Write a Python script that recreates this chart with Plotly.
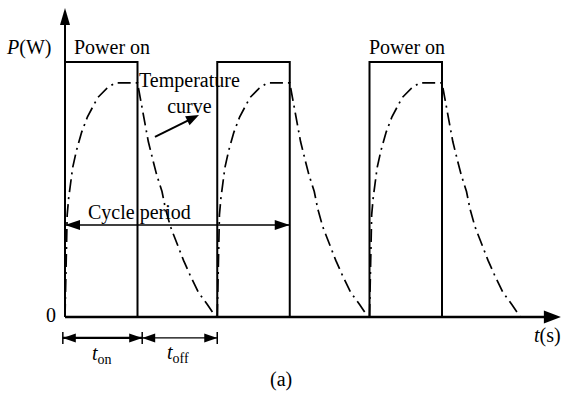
import math
import plotly.graph_objects as go

# ---- pulse timing (s) and power level (normalised) ----
pulse_starts = [0.0, 2.1, 4.2]
t_on = 1.0
p_on = 1.0

# ---- temperature response as a fraction of full scale ----
# rise: time since power on ; fall: time since power off
rise_t = [0, 0.008, 0.018, 0.03, 0.05, 0.075, 0.105, 0.16, 0.23, 0.31, 0.45, 0.58, 0.69, 1.0]
rise_T = [0, 0.15, 0.30, 0.40, 0.465, 0.525, 0.585, 0.655, 0.725, 0.785, 0.86, 0.897, 0.918, 0.918]
fall_t = [0, 0.034, 0.066, 0.149, 0.218, 0.265, 0.338, 0.386, 0.455, 0.540, 0.635, 0.724, 0.84, 0.968, 1.08]
fall_T = [0.918, 0.863, 0.825, 0.688, 0.609, 0.557, 0.492, 0.424, 0.354, 0.289, 0.222, 0.165, 0.097, 0.047, 0]

# ---- dimension lines ----
dim_marks = [-0.03, 1.065, 2.10]      # |<- t_on ->|<- t_off ->|
dim_level = -0.082
cycle_span = [0.0, 3.1]
cycle_level = 0.361
t_max = 6.84
p_max = 1.212

W, H = 562, 393
X_RANGE = [-0.8966, 6.8552]
Y_RANGE = [-0.298, 1.2431]
SX = W / (X_RANGE[1] - X_RANGE[0])
SY = H / (Y_RANGE[1] - Y_RANGE[0])

FONT = "'Times New Roman', 'Liberation Serif', Times, serif"
INK = "black"

fig = go.Figure()

# power signal (square pulses)
px, py = [], []
for s in pulse_starts:
    px += [s, s, s + t_on, s + t_on]
    py += [0, p_on, p_on, 0]
fig.add_trace(go.Scatter(x=px, y=py, mode="lines",
                         line=dict(color=INK, width=2), hoverinfo="skip"))

# temperature curve (dash-dot)
tx, ty = [], []
for s in pulse_starts:
    tx += [s + t for t in rise_t] + [s + t_on + t for t in fall_t] + [None]
    ty += rise_T + fall_T + [None]
fig.add_trace(go.Scatter(x=tx, y=ty, mode="lines",
                         line=dict(color=INK, width=1.7, dash="13px,5px,2px,5px"),
                         hoverinfo="skip"))

shapes = []


def seg(x0, y0, x1, y1, w):
    shapes.append(dict(type="line", xref="x", yref="y", x0=x0, y0=y0, x1=x1, y1=y1,
                       line=dict(color=INK, width=w)))


def head(tx_, ty_, fx, fy, length, half):
    """Filled arrowhead with its tip at (tx_, ty_), pointing away from (fx, fy)."""
    dx = (tx_ - fx) * SX
    dy = (ty_ - fy) * SY
    n = math.hypot(dx, dy)
    ux, uy = dx / n, dy / n
    nx, ny = -uy, ux
    bx, by = -length * ux, -length * uy
    p1 = (bx + half * nx, by + half * ny)
    p2 = (bx - half * nx, by - half * ny)
    path = "M0,0 L{:.2f},{:.2f} L{:.2f},{:.2f} Z".format(p1[0], p1[1], p2[0], p2[1])
    shapes.append(dict(type="path", xref="x", yref="y", xsizemode="pixel", ysizemode="pixel",
                       xanchor=tx_, yanchor=ty_, path=path, fillcolor=INK,
                       line=dict(color=INK, width=0)))


# axes
seg(0, 0, t_max - 10 / SX, 0, 2.6)
head(t_max, 0, 0, 0, 17, 6.5)
seg(0, 0, 0, p_max - 10 / SY, 2)
head(0, p_max, 0, 0, 17, 5)

# cycle period
seg(cycle_span[0], cycle_level, cycle_span[1], cycle_level, 1.6)
head(cycle_span[0], cycle_level, cycle_span[1], cycle_level, 15, 5)
head(cycle_span[1], cycle_level, cycle_span[0], cycle_level, 15, 5)

# t_on / t_off dimensions
tick = 6 / SY
for m in dim_marks:
    seg(m, dim_level - tick, m, dim_level + tick, 1.5)
seg(dim_marks[0], dim_level, dim_marks[1], dim_level, 2.4)
seg(dim_marks[1], dim_level, dim_marks[2], dim_level, 1.4)
for a, b in [(dim_marks[0], dim_marks[1]), (dim_marks[1], dim_marks[2])]:
    head(a, dim_level, b, dim_level, 13, 4.5)
    head(b, dim_level, a, dim_level, 13, 4.5)

# pointer to the temperature curve
ptr_tail = (1.241, 0.706)
ptr_tip = (1.848, 0.792)
seg(ptr_tail[0], ptr_tail[1], ptr_tip[0] - 8 * 0.894 / SX, ptr_tip[1] - 8 * 0.447 / SY, 2)
head(ptr_tip[0], ptr_tip[1], ptr_tail[0], ptr_tail[1], 13, 5)


def label(x, y, text, xanchor="center", size=20):
    return dict(x=x, y=y, xref="x", yref="y", text=text, showarrow=False,
                xanchor=xanchor, yanchor="middle",
                font=dict(family=FONT, size=size, color=INK))


annotations = [
    label(-0.166, 1.058, "<i>P</i>(W)", xanchor="right"),
    label(0.097, 1.058, "Power on", xanchor="left"),
    label(4.717, 1.058, "Power on"),
    label(1.724, 0.877, "Temperature<br>curve"),
    label(1.021, 0.408, "Cycle period"),
    label(-0.097, 0.006, "0", xanchor="right"),
    label(6.66, -0.072, "<i>t</i>(s)"),
    label(0.51, -0.147, "<i>t</i><sub>on</sub>"),
    label(1.559, -0.142, "<i>t</i><sub>off</sub>"),
    label(2.98, -0.246, "(a)"),
]

fig.update_layout(
    width=W, height=H,
    margin=dict(l=0, r=0, t=0, b=0),
    paper_bgcolor="white", plot_bgcolor="white",
    showlegend=False,
    xaxis=dict(range=X_RANGE, visible=False, fixedrange=True),
    yaxis=dict(range=Y_RANGE, visible=False, fixedrange=True),
    shapes=shapes,
    annotations=annotations,
)

fig.write_html("out.html")
